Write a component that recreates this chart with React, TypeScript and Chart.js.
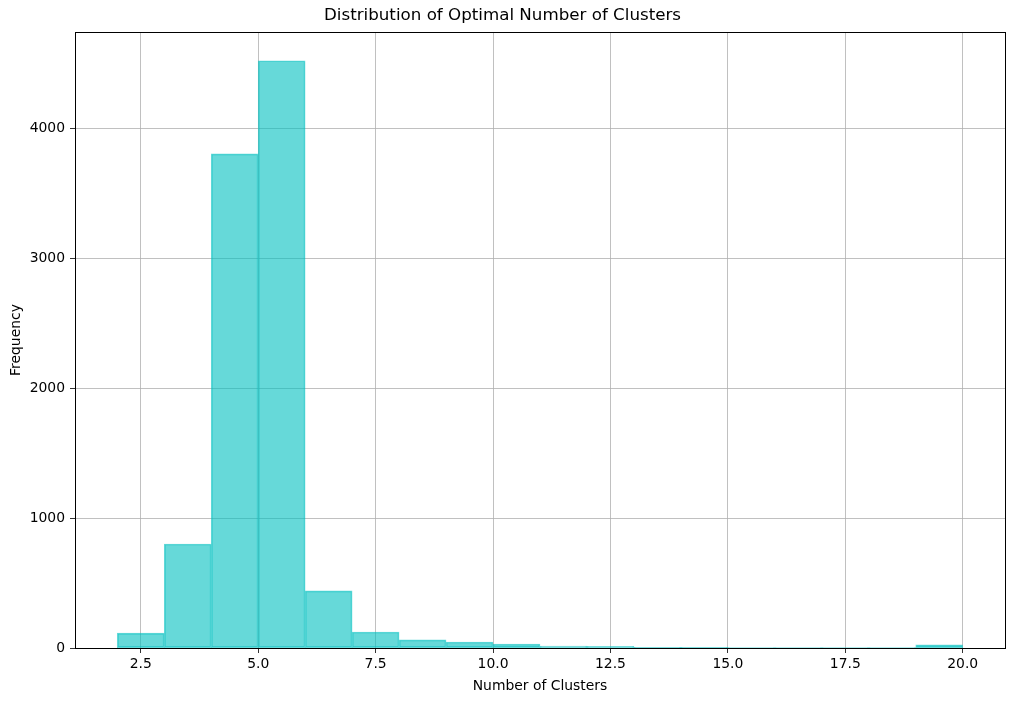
import React, { useEffect, useRef } from "react";
import { Chart, registerables } from "chart.js";

Chart.register(...registerables);

const binCenters = [2.5, 3.5, 4.5, 5.5, 6.5, 7.5, 8.5, 9.5, 10.5, 11.5, 12.5, 13.5, 14.5, 15.5, 16.5, 17.5, 18.5, 19.5];
const frequencies = [115, 800, 3803, 4519, 439, 123, 62, 46, 31, 15, 13, 5, 5, 4, 4, 4, 4, 25];
const xTicks = [2.5, 5.0, 7.5, 10.0, 12.5, 15.0, 17.5, 20.0];
const yTicks = [0, 1000, 2000, 3000, 4000];

const W = 1014;
const H = 701;

const frame = {
  id: "frame",
  afterDatasetsDraw(chart: any) {
    const { ctx, chartArea } = chart;
    ctx.save();
    ctx.strokeStyle = "#000";
    ctx.lineWidth = 1;
    ctx.strokeRect(
      Math.round(chartArea.left) + 0.5,
      Math.round(chartArea.top) + 0.5,
      Math.round(chartArea.right - chartArea.left),
      Math.round(chartArea.bottom - chartArea.top)
    );
    ctx.restore();
  },
};

export default function App() {
  const ref = useRef<HTMLCanvasElement | null>(null);
  useEffect(() => {
    if (!ref.current) return;
    Chart.defaults.font.family = "'DejaVu Sans', sans-serif";
    const chart = new Chart(ref.current, {
      type: "bar",
      data: {
        datasets: [
          {
            data: binCenters.map((x, i) => ({ x, y: frequencies[i] })),
            backgroundColor: "rgba(0,191,191,0.6)",
            borderColor: "rgba(0,191,191,0.6)",
            borderWidth: 1,
            borderSkipped: false,
            barPercentage: 1,
            categoryPercentage: 1,
          },
        ],
      },
      options: {
        animation: false,
        responsive: false,
        maintainAspectRatio: false,
        layout: { padding: { left: 0, right: 9, top: 0, bottom: 0 } },
        plugins: {
          legend: { display: false },
          tooltip: { enabled: false },
          title: {
            display: true,
            text: "Distribution of Optimal Number of Clusters",
            color: "#000",
            font: { size: 16.7, weight: "normal" },
            padding: { top: 6, bottom: 6 },
          },
        },
        scales: {
          x: {
            type: "linear",
            min: 1.1,
            max: 20.9,
            offset: false,
            afterBuildTicks: (s: any) => {
              s.ticks = xTicks.map((v) => ({ value: v }));
            },
            afterFit: (s: any) => {
              s.height = 53;
            },
            ticks: {
              color: "#000",
              font: { size: 13.9 },
              padding: 3,
              maxRotation: 0,
              autoSkip: false,
              callback: (v: any) => Number(v).toFixed(1),
            },
            grid: {
              offset: false,
              color: "#b0b0b0",
              lineWidth: 0.8,
              tickColor: "#000",
              tickLength: 5,
            },
            border: { display: false },
            title: {
              display: true,
              text: "Number of Clusters",
              color: "#000",
              font: { size: 13.9 },
              padding: { top: 4, bottom: 6 },
            },
          },
          y: {
            type: "linear",
            min: 0,
            max: 4740,
            afterBuildTicks: (s: any) => {
              s.ticks = yTicks.map((v) => ({ value: v }));
            },
            afterFit: (s: any) => {
              s.width = 75;
            },
            ticks: {
              color: "#000",
              font: { size: 13.9 },
              padding: 5,
              autoSkip: false,
              callback: (v: any) => String(v),
            },
            grid: {
              color: "#b0b0b0",
              lineWidth: 0.8,
              tickColor: "#000",
              tickLength: 5,
            },
            border: { display: false },
            title: {
              display: true,
              text: "Frequency",
              color: "#000",
              font: { size: 13.9 },
              padding: { top: 8, bottom: 4 },
            },
          },
        },
      },
      plugins: [frame],
    } as any);
    return () => chart.destroy();
  }, []);
  return (
    <div style={{ position: "fixed", left: 0, top: 0, width: W, height: H, background: "#fff" }}>
      <canvas ref={ref} width={W} height={H} style={{ width: W, height: H, display: "block" }} />
    </div>
  );
}
